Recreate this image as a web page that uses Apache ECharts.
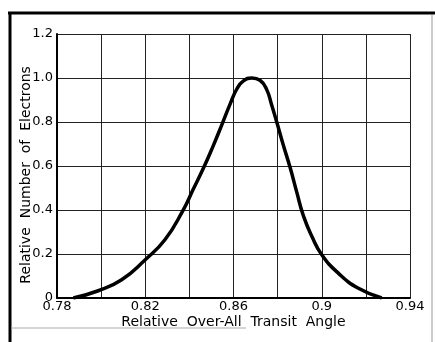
<!DOCTYPE html>
<html>
<head>
<meta charset="utf-8">
<script src="https://cdn.jsdelivr.net/npm/echarts@6/dist/echarts.min.js"></script>
<style>
html,body{margin:0;padding:0;background:#fff;}
#chart{width:435px;height:342px;}
</style>
</head>
<body>
<div id="chart"></div>
<script>
// Curve samples
var transitAngle = [0.7874, 0.7987, 0.8093, 0.8200, 0.8290, 0.8370, 0.8418, 0.8466, 0.8509, 0.8547, 0.8584, 0.8615, 0.8645, 0.8683, 0.8720, 0.8751, 0.8773, 0.8796, 0.8826, 0.8856, 0.8887, 0.8917, 0.8955, 0.9000, 0.9075, 0.9166, 0.9272];
var relElectrons = [0.0, 0.033, 0.083, 0.174, 0.266, 0.396, 0.495, 0.595, 0.694, 0.787, 0.880, 0.950, 0.987, 1.0, 0.99, 0.946, 0.877, 0.80, 0.694, 0.595, 0.48, 0.373, 0.281, 0.197, 0.113, 0.044, 0.0];
var xTickLabels = {"0.78": "0.78", "0.82": "0.82", "0.86": "0.86", "0.90": "0.9", "0.94": "0.94"};
var yTickLabels = {"0.0": "0", "0.2": "0.2", "0.4": "0.4", "0.6": "0.6", "0.8": "0.8", "1.0": "1.0", "1.2": "1.2"};
var xTitle = "Relative  Over-All  Transit  Angle";
var yTitle = "Relative  Number  of  Electrons    ";

var pts = transitAngle.map(function (x, i) { return [x, relElectrons[i]]; });
var font = "DejaVu Sans";
var chart = echarts.init(document.getElementById('chart'), null, {renderer: 'canvas'});
chart.setOption({
  animation: false,
  backgroundColor: '#fff',
  grid: {left: 57, right: 25, top: 34, bottom: 44},
  xAxis: {
    type: 'value', min: 0.78, max: 0.94, interval: 0.02,
    axisLine: {show: true, onZero: false, lineStyle: {color: '#000', width: 2}},
    axisTick: {show: false},
    splitLine: {show: true, lineStyle: {color: '#222', width: 1}},
    axisLabel: {
      margin: 2, color: '#000', fontFamily: font, fontSize: 13,
      formatter: function (v) { var k = v.toFixed(2); return xTickLabels[k] || ''; }
    },
    name: xTitle, nameLocation: 'middle', nameGap: 17, nameMoveOverlap: false,
    nameTextStyle: {color: '#000', fontFamily: font, fontSize: 14, verticalAlign: 'top'}
  },
  yAxis: {
    type: 'value', min: 0, max: 1.2, interval: 0.2,
    axisLine: {show: true, lineStyle: {color: '#000', width: 2}},
    axisTick: {show: false},
    splitLine: {show: true, lineStyle: {color: '#222', width: 1}},
    axisLabel: {
      margin: 4, color: '#000', fontFamily: font, fontSize: 13,
      formatter: function (v) { var k = v.toFixed(1); return yTickLabels[k] || ''; }
    },
    name: yTitle, nameLocation: 'middle', nameGap: 24, nameRotate: 90, nameMoveOverlap: false,
    nameTextStyle: {color: '#000', fontFamily: font, fontSize: 14}
  },
  series: [{
    type: 'line', data: pts, smooth: 0.5, symbol: 'none',
    lineStyle: {color: '#000', width: 3.5}
  }],
  graphic: [
    {type: 'line', shape: {x1: 8, y1: 13, x2: 435, y2: 13}, style: {stroke: '#000', lineWidth: 3}},
    {type: 'line', shape: {x1: 10, y1: 12, x2: 10, y2: 342}, style: {stroke: '#000', lineWidth: 3}},
    {type: 'line', shape: {x1: 432, y1: 15, x2: 432, y2: 342}, style: {stroke: '#999', lineWidth: 1}},
    {type: 'line', shape: {x1: 11, y1: 328, x2: 246, y2: 328}, style: {stroke: '#aaa', lineWidth: 1}}
  ]
});
</script>
</body>
</html>
